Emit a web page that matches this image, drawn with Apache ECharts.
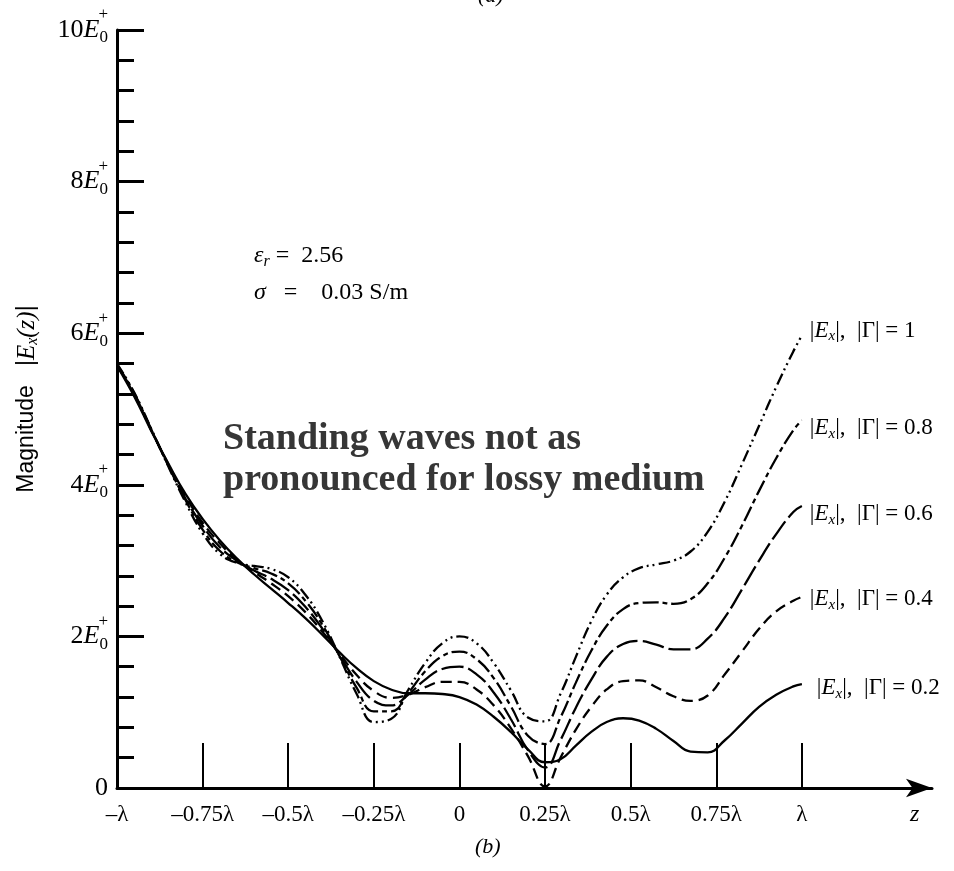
<!DOCTYPE html>
<html><head><meta charset="utf-8">
<script src="https://cdn.jsdelivr.net/npm/echarts@6/dist/echarts.min.js"></script>
<style>html,body{margin:0;padding:0;background:#fff}#c{width:954px;height:871px}</style>
</head><body><div id="c"></div>
<script>
// z positions (in wavelengths)
const zPos = [-1,-0.95,-0.9,-0.85,-0.8,-0.75,-0.7,-0.65,-0.6,-0.55,-0.5,-0.45,-0.4,-0.35,-0.3,-0.25,-0.2,-0.15,-0.1,-0.05,0,0.05,0.1,0.15,0.2,0.25,0.295,0.34,0.385,0.43,0.478,0.525,0.575,0.625,0.675,0.725,0.775,0.825,0.875,0.925,0.975,1.0];
// |Ex| magnitudes (units of E0+)
const magG10 = [5.60,5.22,4.74,4.24,3.77,3.36,3.09,2.97,2.93,2.89,2.78,2.55,2.20,1.73,1.24,0.87,0.91,1.29,1.65,1.91,2.00,1.91,1.65,1.29,0.93,0.88,1.24,1.73,2.20,2.55,2.78,2.90,2.95,3.00,3.12,3.38,3.78,4.27,4.78,5.29,5.76,5.97];
const magG08 = [5.59,5.21,4.73,4.25,3.80,3.41,3.13,2.98,2.90,2.83,2.70,2.47,2.15,1.74,1.32,1.01,1.01,1.25,1.54,1.74,1.80,1.70,1.45,1.08,0.69,0.58,0.93,1.39,1.81,2.14,2.36,2.44,2.45,2.43,2.49,2.70,3.04,3.46,3.92,4.35,4.72,4.85];
const magG06 = [5.58,5.20,4.73,4.26,3.82,3.46,3.18,3.00,2.87,2.76,2.61,2.39,2.10,1.75,1.40,1.15,1.09,1.23,1.43,1.57,1.60,1.50,1.26,0.91,0.50,0.27,0.63,1.06,1.43,1.73,1.90,1.94,1.89,1.83,1.83,1.97,2.25,2.62,3.00,3.35,3.64,3.72];
const magG04 = [5.58,5.19,4.72,4.27,3.85,3.50,3.23,3.01,2.85,2.70,2.53,2.32,2.06,1.77,1.49,1.28,1.19,1.23,1.33,1.40,1.40,1.30,1.09,0.79,0.42,0.02,0.40,0.77,1.07,1.30,1.41,1.42,1.33,1.21,1.15,1.22,1.50,1.80,2.10,2.33,2.47,2.52];
const magG02 = [5.57,5.17,4.71,4.28,3.88,3.55,3.27,3.03,2.82,2.63,2.44,2.24,2.02,1.79,1.58,1.41,1.30,1.25,1.25,1.24,1.20,1.10,0.94,0.74,0.51,0.34,0.38,0.56,0.74,0.87,0.92,0.89,0.78,0.62,0.48,0.47,0.63,0.85,1.07,1.23,1.34,1.37];
const gammaLabels = ['1','0.8','0.6','0.4','0.2'];
const xTickValues = [-1,-0.75,-0.5,-0.25,0,0.25,0.5,0.75,1];
const xTickLabels = ['\u2013\u03bb','\u20130.75\u03bb','\u20130.5\u03bb','\u20130.25\u03bb','0','0.25\u03bb','0.5\u03bb','0.75\u03bb','\u03bb'];
const yTickValues = [0,2,4,6,8,10];
const yTickLabels = ['0','2','4','6','8','10'];

const SERIF = "'Liberation Serif','Times New Roman',serif";
const SANS = "'Liberation Sans',Arial,sans-serif";

const allMags = [magG10, magG08, magG06, magG04, magG02];
const dashes = [[12,4,2,4,2,4],[16,4,5,4],[22,5],[11,6],'solid'];
const labelOffsets = [[2,-5],[2,8],[2,8],[2,2],[9,4]];

const chart = echarts.init(document.getElementById('c'), null, {renderer:'canvas'});

const labelRich = {
  t:{fontFamily:SERIF,fontSize:23,color:'#000'},
  e:{fontFamily:SERIF,fontStyle:'italic',fontSize:23,color:'#000'},
  s:{fontFamily:SERIF,fontStyle:'italic',fontSize:15,color:'#000',padding:[12,0,0,0]}
};

const series = allMags.map((mags, k) => ({
  type:'line',
  data: zPos.map((z,i)=>[z, mags[i]]),
  showSymbol:false,
  smooth:0.45,
  lineStyle:{color:'#000', width:2.3, type:dashes[k]},
  z: 5 - k,
  endLabel:{
    show:true,
    distance:6,
    offset:labelOffsets[k],
    formatter: () => '{t||}{e|E}{s|x}{t||,  |\u0393| = ' + gammaLabels[k] + '}',
    rich: labelRich
  },
  silent:true
}));

chart.setOption({
  animation:false,
  backgroundColor:'#fff',
  grid:{left:117, right:22, top:30, bottom:83, containLabel:false, outerBoundsMode:'none'},
  xAxis:{
    type:'value', min:-1, max:1.38,
    axisLine:{show:true, onZero:false, symbol:['none','arrow'], symbolSize:[14,26], lineStyle:{color:'#000', width:3}},
    axisTick:{show:true, inside:true, length:45, customValues: xTickValues.slice(1), lineStyle:{color:'#000', width:2}},
    axisLabel:{show:true, customValues: xTickValues, margin:15, color:'#000', fontFamily:SERIF, fontSize:23,
      formatter: v => { const i = xTickValues.findIndex(t=>Math.abs(t-v)<1e-6); return i>=0 ? xTickLabels[i] : ''; }},
    splitLine:{show:false}
  },
  yAxis:[{
    type:'value', min:0, max:10, interval:2, position:'left',
    axisLine:{show:true, onZero:false, lineStyle:{color:'#000', width:3}},
    axisTick:{show:true, inside:true, length:27, lineStyle:{color:'#000', width:3}},
    minorTick:{show:true, splitNumber:5, length:17, lineStyle:{color:'#000', width:3}},
    splitLine:{show:false}, minorSplitLine:{show:false},
    axisLabel:{margin:9, color:'#000',
      formatter: v => { const i = yTickValues.indexOf(v); if (i<0) return ''; return v===0 ? '{n|0}' : '{n|'+yTickLabels[i]+'}{e|E}{s|0}'; },
      rich:{
        n:{fontFamily:SERIF,fontSize:26,color:'#000'},
        e:{fontFamily:SERIF,fontStyle:'italic',fontSize:26,color:'#000'},
        s:{fontFamily:SERIF,fontSize:17,color:'#000',padding:[16,0,0,0]}
      }},
    name:'{m|Magnitude   |}{e|E}{s|x}{e|(z)}{m||}',
    nameLocation:'middle', nameRotate:90, nameGap:76,
    nameTextStyle:{padding:[0,0,0,20], rich:{
      m:{fontFamily:SANS,fontSize:23,color:'#000'},
      e:{fontFamily:SERIF,fontStyle:'italic',fontSize:25,color:'#000'},
      s:{fontFamily:SERIF,fontStyle:'italic',fontSize:16,color:'#000',padding:[12,0,0,0]}
    }}
  },{
    type:'value', min:0, max:10, interval:2, position:'left', offset:0,
    axisLine:{show:false, onZero:false}, axisTick:{show:false}, splitLine:{show:false},
    axisLabel:{margin:9, color:'#000', fontFamily:SERIF, fontSize:17, verticalAlign:'bottom', lineHeight:30,
      formatter: v => (v===0 || yTickValues.indexOf(v)<0) ? '' : '+'}
  }],
  series: series,
  graphic:[
    {type:'text', left:254, top:244, style:{text:'{g|\u03b5}{s|r}{t| =  2.56}', rich:{
      g:{fontFamily:SERIF,fontStyle:'italic',fontSize:24,color:'#000'},
      s:{fontFamily:SERIF,fontStyle:'italic',fontSize:16,color:'#000',padding:[12,0,0,0]},
      t:{fontFamily:SERIF,fontSize:24,color:'#000'}}}},
    {type:'text', left:254, top:281, style:{text:'{g|\u03c3}{t|   =    0.03 S/m}', rich:{
      g:{fontFamily:SERIF,fontStyle:'italic',fontSize:24,color:'#000'},
      t:{fontFamily:SERIF,fontSize:24,color:'#000'}}}},
    {type:'text', left:223, top:419, style:{text:'Standing waves not as\npronounced for lossy medium',
      fontFamily:SERIF, fontWeight:'bold', fontSize:38, lineHeight:41, fill:'#363636'}},
    {type:'text', left:910, top:803, style:{text:'z', fontFamily:SERIF, fontStyle:'italic', fontSize:24, fill:'#000'}},
    {type:'text', left:475, top:836, style:{text:'(b)', fontFamily:SERIF, fontStyle:'italic', fontSize:22, fill:'#000'}},
    {type:'text', left:478, top:-15, style:{text:'(a)', fontFamily:SERIF, fontStyle:'italic', fontSize:22, fill:'#000'}}
  ]
});
</script></body></html>
